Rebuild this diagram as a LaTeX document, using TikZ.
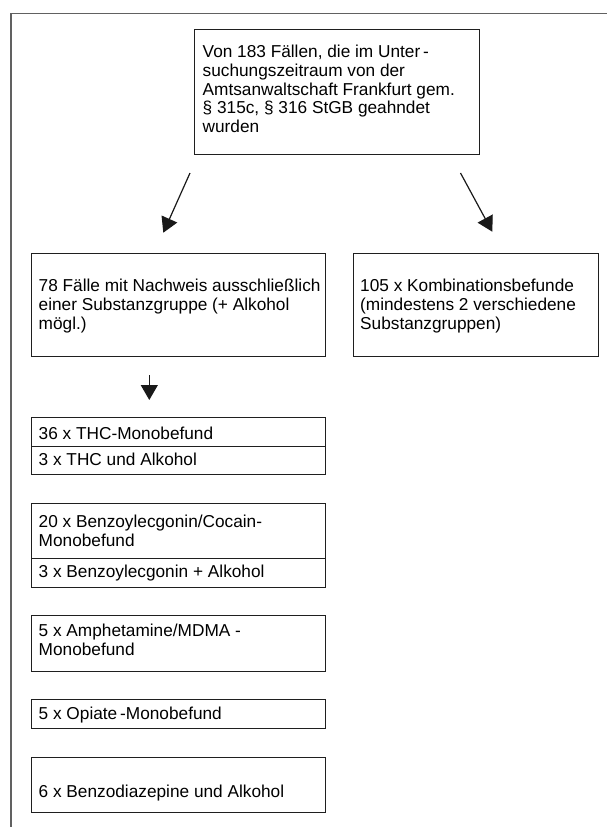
\documentclass[tikz,border=0pt]{standalone}
\usepackage{fontspec}
\setmainfont{Liberation Sans}
\usetikzlibrary{arrows.meta}
% invisible rule fixing the height of the first text line
\newcommand\lnstrut{\rule{0pt}{13pt}}
\begin{document}
\begin{tikzpicture}[x=1pt,y=-1pt,
  frame/.style={draw=black!62,line width=1.6pt},
  box/.style={draw=black!88,line width=0.9pt,inner sep=0pt,anchor=north west},
  txt/.style={inner sep=0pt,anchor=north west,align=left,
    font=\fontsize{17.25}{18.7}\selectfont},
  flow/.style={draw=black!90,line width=1.2pt,
    -{Triangle[length=15pt,width=17pt]}}]
\useasboundingbox (0,0) rectangle (607,827);

% open outer frame
\draw[frame] (11,827) -- (11,13.3) -- (607,13.3);

% boxes
\node[box,minimum width=285pt,minimum height=125pt] (top) at (194,29) {};
\node[box,minimum width=294pt,minimum height=103pt] (single) at (31,253) {};
\node[box,minimum width=245.3pt,minimum height=103pt] (combi) at (352.7,253) {};
\node[box,minimum width=294pt,minimum height=29pt] (thcA) at (31,417) {};
\node[box,minimum width=294pt,minimum height=28pt] (thcB) at (31,446) {};
\node[box,minimum width=294pt,minimum height=55pt] (bzeA) at (31,503) {};
\node[box,minimum width=294pt,minimum height=29pt] (bzeB) at (31,558) {};
\node[box,minimum width=294pt,minimum height=56pt] (amph) at (31,615) {};
\node[box,minimum width=294pt,minimum height=29pt] (opi) at (31,699) {};
\node[box,minimum width=294pt,minimum height=55pt] (benzo) at (31,757) {};

% texts
\node[txt] (top-t) at (202.5,44.4) {\lnstrut Von 183 Fällen, die im Unter\,-\\
  suchungszeitraum von der\\Amtsanwaltschaft Frankfurt gem.\\
  § 315c, § 316 StGB geahndet\\wurden};
\node[txt] (single-t) at (38.5,278.4) {\lnstrut 78 Fälle mit Nachweis ausschließlich\\
  einer Substanzgruppe (+ Alkohol\\mögl.)};
\node[txt] (combi-t) at (360,278.4) {\lnstrut 105 x Kombinationsbefunde\\
  (mindestens 2 verschiedene\\Substanzgruppen)};
\node[txt] (thcA-t) at (38.5,426.4) {\lnstrut 36 x THC-Monobefund};
\node[txt] (thcB-t) at (38.5,452.4) {\lnstrut 3 x THC und Alkohol};
\node[txt] (bzeA-t) at (38.5,514.4) {\lnstrut 20 x Benzoylecgonin/Cocain-\\Monobefund};
\node[txt] (bzeB-t) at (38.5,564) {\lnstrut 3 x Benzoylecgonin + Alkohol};
\node[txt] (amph-t) at (38.5,623.2) {\lnstrut 5 x Amphetamine/MDMA -\\Monobefund};
\node[txt] (opi-t) at (38.5,706.4) {\lnstrut 5 x Opiate\,-Monobefund};
\node[txt] (benzo-t) at (38.5,784.1) {\lnstrut 6 x Benzodiazepine und Alkohol};

% arrow ends
\coordinate (l0) at (190,173);
\coordinate (l1) at (163.3,232.7);
\coordinate (r0) at (460.5,173);
\coordinate (r1) at (492.3,231.7);
\coordinate (d0) at (149.3,375);
\coordinate (d1) at (149.3,400);

\draw[flow] (l0) -- (l1);
\draw[flow] (r0) -- (r1);
\draw[flow] (d0) -- (d1);
\end{tikzpicture}
\end{document}
